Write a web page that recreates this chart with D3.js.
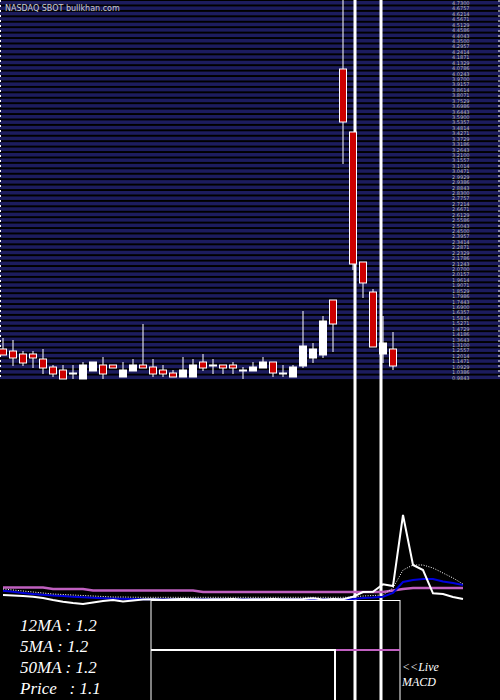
<!DOCTYPE html><html><head><meta charset="utf-8">
<script src="https://cdn.jsdelivr.net/npm/d3@7"></script>
<style>body{margin:0;background:#000}</style></head><body>
<svg id="c" width="500" height="700"></svg>
<script>
const opens =[1.27,1.25,1.22,1.22,1.17,1.09,1.06,1.03,0.97,1.05,1.11,1.11,0.99,1.05,1.11,1.09,1.06,1.03,0.99,0.99,1.14,1.11,1.11,1.11,1.06,1.05,1.08,1.14,1.03,0.99,1.10,1.18,1.21,1.76,4.07,3.44,2.14,1.84,1.22,1.27];
const highs =[1.38,1.36,1.25,1.25,1.27,1.11,1.11,1.11,1.14,1.14,1.19,1.11,1.14,1.17,1.52,1.17,1.11,1.06,1.19,1.17,1.22,1.17,1.11,1.14,1.09,1.14,1.19,1.14,1.11,1.11,1.65,1.33,1.60,1.76,4.96,3.44,2.14,1.87,1.60,1.44];
const lows  =[1.21,1.10,1.10,1.08,1.02,0.99,0.97,0.97,0.97,1.05,0.97,1.08,0.99,1.05,1.08,0.99,0.99,0.99,0.99,0.99,1.05,1.02,1.02,1.02,0.97,1.05,1.08,0.99,0.99,0.99,1.08,1.13,1.18,1.24,3.12,2.06,1.78,1.29,1.13,1.06];
const closes=[1.21,1.18,1.13,1.18,1.08,1.02,0.97,1.03,1.11,1.14,1.02,1.08,1.06,1.11,1.08,1.02,1.02,0.99,1.06,1.11,1.08,1.11,1.08,1.08,1.06,1.09,1.14,1.03,1.03,1.09,1.30,1.27,1.55,1.52,3.54,2.12,1.93,1.29,1.33,1.10];
const spikeIdx=[35.2,37.8];
const maPink=[22.5,22.5,22.5,22.5,22.5,21,21,21,21,19.5,19.5,19.5,19.5,19.5,19.5,19.5,19.5,19.5,19.5,19.5,18,18,18,18,18,18,18,18,18,18,18,18,18,18,18,18,18,18,18,19.5,21,22,22,22,22,22,22];
const maBlue=[19.3,18.2,17,16,15.3,14.6,14,13.3,12.8,12.3,11.8,11.4,11.2,11,10.7,10.7,10.7,10.7,10.7,10.7,10.7,10.7,10.7,10.7,10.7,10.7,10.7,10.7,10.7,10.7,10.7,10.7,10.7,10.7,10.7,11,12,12.5,13.3,17,28,30,31,31,28.5,27,25];
const maWhite=[15,14.5,14,13.3,12,10,8.3,7,6,7.5,9,10,8.5,9.5,10.5,10.7,10.3,10.7,11,10.7,10.5,10.7,10.7,11,10.5,10.7,10.7,10.9,10.7,10.7,11,11.7,10.5,11,10.7,13.3,18,18.3,25.7,24,95,45,40,16.7,16,13,11];
const maDot=[21,20,19,18,17,16,15.5,15,14.5,14,13.5,13,13,12.8,12.7,12.7,12.7,12.7,12.7,12.7,12.7,12.7,12.7,12.7,12.7,12.7,12.7,12.7,12.7,12.7,12.7,12.7,12.7,12.7,12.7,13,14,14.5,15,22,40,45,45,42,37,32,26];
const infoLabels=["12MA : 1.2","5MA : 1.2","50MA : 1.2","Price   : 1.1"];

const svg=d3.select("#c");
const x=d3.scaleLinear().domain([0,46]).range([3,463]);
const y=d3.scaleLinear().domain([0.96,4.76]).range([380,0]);
const yl=d3.scaleLinear().domain([0,100]).range([610,510]);

svg.append("rect").attr("width",500).attr("height",700).attr("fill","#000");
// stripes
const stripeVals=d3.range(0,70);
const sy=d3.scaleLinear().domain([0,70]).range([1,381]);
svg.selectAll(".st").data(stripeVals).join("rect").attr("x",0).attr("width",500)
 .attr("y",d=>sy(d)).attr("height",3.5).attr("fill","#1c1c5e");
svg.selectAll(".tl").data(stripeVals).join("text").attr("x",452).attr("y",d=>sy(d)+4)
 .attr("font-size",5).attr("fill","#bbb").attr("font-family","DejaVu Sans")
 .text(d=>y.invert(sy(d)+2).toFixed(4));
svg.append("line").attr("x1",499).attr("x2",499).attr("y1",0).attr("y2",380).attr("stroke","#fff").attr("stroke-dasharray","2,3");
svg.append("line").attr("x1",0.5).attr("x2",0.5).attr("y1",0).attr("y2",380).attr("stroke","#fff").attr("stroke-dasharray","2,3");
svg.append("text").attr("x",5).attr("y",11).attr("font-size",8).attr("fill","#ccc").attr("font-family","DejaVu Sans").text("NASDAQ SBOT bullkhan.com");

// spikes
svg.selectAll(".sp").data(spikeIdx).join("rect").attr("x",d=>x(d)-1.5).attr("width",3).attr("y",0).attr("height",700).attr("fill","#fff");

// candles
const idx=d3.range(opens.length);
svg.selectAll(".wk").data(idx).join("line").attr("x1",i=>x(i)).attr("x2",i=>x(i))
 .attr("y1",i=>y(highs[i])).attr("y2",i=>y(lows[i])).attr("stroke","#fff");
svg.selectAll(".bd").data(idx).join("rect").attr("x",i=>x(i)-3.5).attr("width",7)
 .attr("y",i=>y(Math.max(opens[i],closes[i])))
 .attr("height",i=>Math.max(1,Math.abs(y(opens[i])-y(closes[i]))))
 .attr("fill",i=>closes[i]<opens[i]?"#cc0000":"#fff").attr("stroke","#fff");

// lower lines
const ln=d3.line().x((d,i)=>x(i)).y(d=>yl(d));
svg.append("path").attr("d",ln(maPink)).attr("fill","none").attr("stroke","#c060c0").attr("stroke-width",2.5);
svg.append("path").attr("d",ln(maBlue)).attr("fill","none").attr("stroke","#0000dd").attr("stroke-width",2);
svg.append("path").attr("d",ln(maDot)).attr("fill","none").attr("stroke","#fff").attr("stroke-width",1).attr("stroke-dasharray","1,1.5");
svg.append("path").attr("d",ln(maWhite)).attr("fill","none").attr("stroke","#fff").attr("stroke-width",2);

// box
svg.append("rect").attr("x",151).attr("y",600.5).attr("width",249).attr("height",110).attr("fill","none").attr("stroke","#fff");
svg.append("path").attr("d","M151,650H335V700").attr("fill","none").attr("stroke","#fff").attr("stroke-width",2);
svg.append("line").attr("x1",336).attr("x2",400).attr("y1",650).attr("y2",650).attr("stroke","#c060c0").attr("stroke-width",2);

svg.selectAll(".inf").data(infoLabels).join("text").attr("x",20).attr("y",(d,i)=>631+i*21)
 .attr("font-family","Liberation Serif").attr("font-style","italic").attr("font-size",17).attr("fill","#fff").attr("xml:space","preserve").text(d=>d);
svg.append("text").attr("x",402).attr("y",671).attr("font-family","Liberation Serif").attr("font-style","italic").attr("font-size",12).attr("fill","#fff").text("<<Live");
svg.append("text").attr("x",402).attr("y",686).attr("font-family","Liberation Serif").attr("font-style","italic").attr("font-size",12).attr("fill","#fff").text("MACD");
</script></body></html>
